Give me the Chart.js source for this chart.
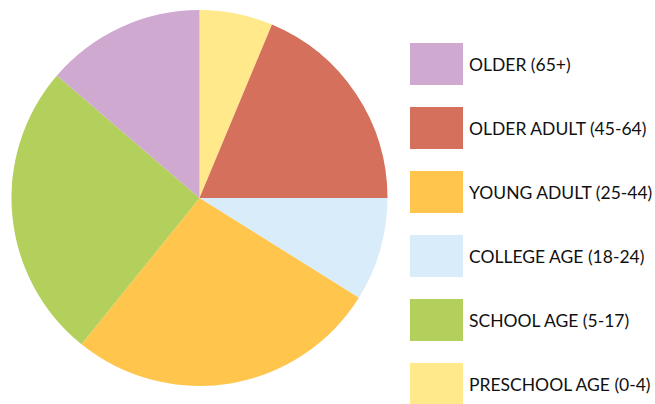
<!DOCTYPE html>
<html>
<head>
<meta charset="utf-8">
<script src="https://cdn.jsdelivr.net/npm/chart.js@4.4.0/dist/chart.umd.min.js"></script>
<style>
  body { margin: 0; background: #fff; }
  #wrap { position: relative; width: 655px; height: 404px; }
  #pieBox { position: absolute; left: 0; top: 0; width: 400px; height: 404px; }
  #legend { position: absolute; left: 410px; top: 43px; margin: 0; padding: 0; list-style: none; }
  #legend li { display: flex; align-items: center; height: 42px; margin-bottom: 22px; }
  #legend .sw { width: 53px; height: 42px; margin-right: 6px; }
  #legend .tx { font-family: Lato, sans-serif; font-size: 17.5px; color: #111; white-space: nowrap; }
</style>
</head>
<body>
<div id="wrap">
  <div id="pieBox"><canvas id="pie"></canvas></div>
  <ul id="legend"></ul>
</div>
<script>
// slices, clockwise from 12 o'clock (percent of population)
const sliceLabels = [
  "PRESCHOOL AGE (0-4)",
  "OLDER ADULT (45-64)",
  "COLLEGE AGE (18-24)",
  "YOUNG ADULT (25-44)",
  "SCHOOL AGE (5-17)",
  "OLDER (65+)"
];
const sliceValues = [6.3, 18.7, 8.9, 26.9, 25.5, 13.7];
const sliceColors = ["#ffe98b", "#d4705c", "#d8edf9", "#ffc54c", "#b3cf5c", "#cfa9cf"];

// legend runs oldest to youngest
const legendOrder = [
  "OLDER (65+)",
  "OLDER ADULT (45-64)",
  "YOUNG ADULT (25-44)",
  "COLLEGE AGE (18-24)",
  "SCHOOL AGE (5-17)",
  "PRESCHOOL AGE (0-4)"
];

const ctx = document.getElementById("pie").getContext("2d");
new Chart(ctx, {
  type: "pie",
  data: {
    labels: sliceLabels,
    datasets: [{
      data: sliceValues,
      backgroundColor: sliceColors,
      borderWidth: 0
    }]
  },
  options: {
    responsive: true,
    maintainAspectRatio: false,
    animation: false,
    layout: { padding: { left: 11, right: 12, top: 10, bottom: 18 } },
    plugins: {
      legend: { display: false },
      tooltip: { enabled: false }
    }
  }
});

const ul = document.getElementById("legend");
legendOrder.forEach(name => {
  const i = sliceLabels.indexOf(name);
  const li = document.createElement("li");
  li.innerHTML = '<span class="sw" style="background:' + sliceColors[i] + '"></span><span class="tx">' + name + '</span>';
  ul.appendChild(li);
});
</script>
</body>
</html>
